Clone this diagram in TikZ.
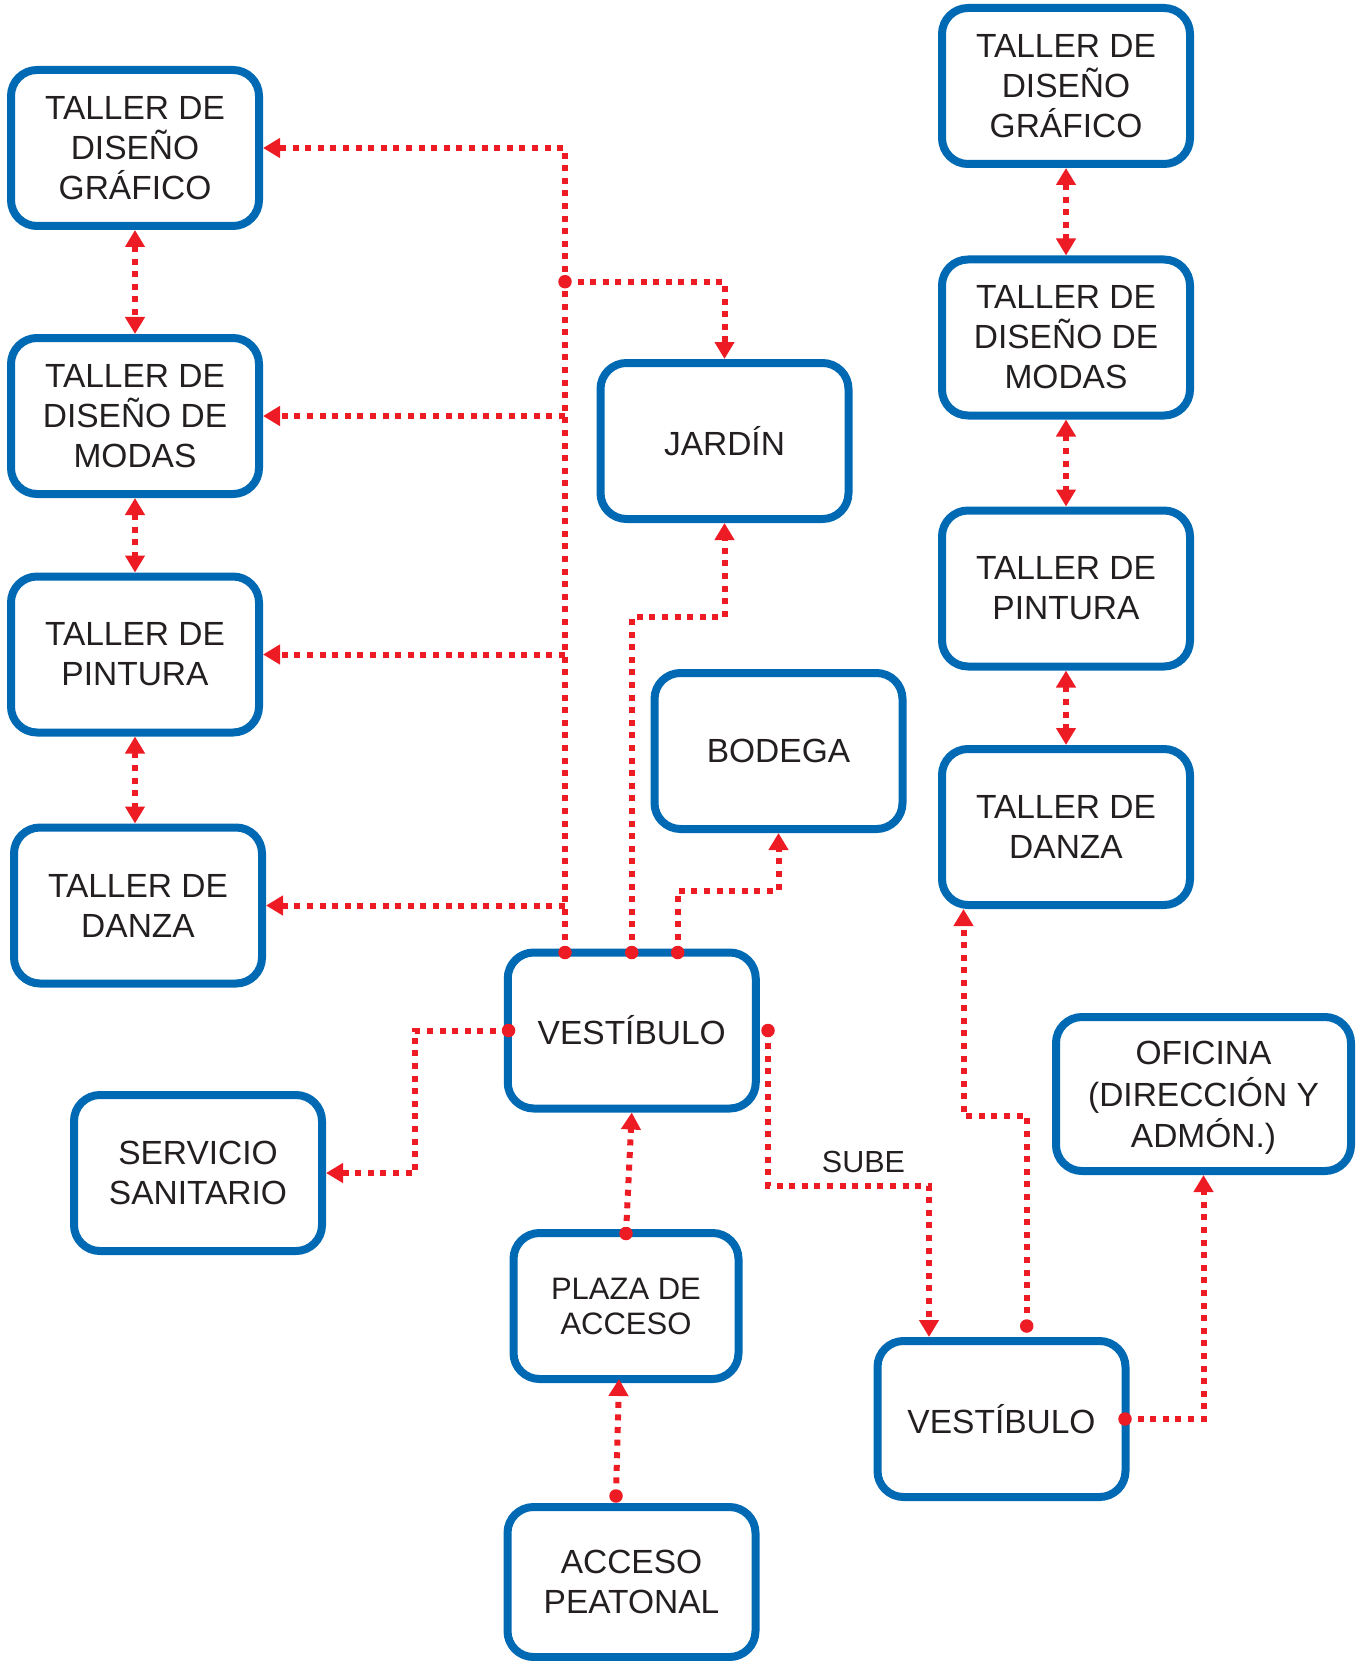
\documentclass[tikz,border=0pt]{standalone}
\usepackage{fontspec}
\setmainfont{Liberation Sans}
\usetikzlibrary{arrows.meta}

\definecolor{boxblue}{RGB}{0,105,180}
\definecolor{linkred}{RGB}{237,28,36}
\definecolor{ink}{RGB}{35,31,32}

\tikzset{
  room/.style={draw=boxblue, line width=8pt, rounded corners=26pt, fill=white,
    minimum width=248pt, minimum height=156pt, inner sep=0pt, align=center,
    text=ink, font=\fontsize{33.5pt}{40pt}\selectfont},
  smallroom/.style={room, minimum width=225pt, minimum height=146pt,
    font=\fontsize{31pt}{35pt}\selectfont},
  link/.style={draw=linkred, line width=6pt, dash pattern=on 6pt off 6.6pt},
  tip/.style={-{Triangle[length=17pt,width=19pt]}},
  bothtips/.style={{Triangle[length=17pt,width=19pt]}-{Triangle[length=17pt,width=19pt]}},
  dot/.style={circle, fill=linkred, inner sep=0pt, minimum size=13.5pt},
  tag/.style={text=ink, font=\fontsize{30.5pt}{35pt}\selectfont}
}

\begin{document}
\begin{tikzpicture}[x=1pt, y=-1pt]
\useasboundingbox (0,0) rectangle (1363,1661);

% rooms, left column
\node[room] (tdgL) at (135,148)   {TALLER DE\\DISEÑO\\GRÁFICO};
\node[room] (tdmL) at (135,416)   {TALLER DE\\DISEÑO DE\\MODAS};
\node[room] (tpL)  at (135,654.5) {TALLER DE\\PINTURA};
\node[room] (tdL)  at (138,905.5) {TALLER DE\\DANZA};

% rooms, centre
\node[room] (jardin) at (724.5,441)     {JARDÍN};
\node[room] (bodega) at (778.5,751)     {BODEGA};
\node[room] (vest)   at (631.75,1030.5) {VESTÍBULO};
\node[room] (serv)   at (198,1173)      {SERVICIO\\SANITARIO};
\node[smallroom] (plaza) at (626,1306)  {PLAZA DE\\ACCESO};
\node[room, minimum height=150pt] (acceso) at (631.5,1582) {ACCESO\\PEATONAL};

% rooms, right column
\node[room] (tdgR)  at (1066,86)     {TALLER DE\\DISEÑO\\GRÁFICO};
\node[room] (tdmR)  at (1066,337.5)  {TALLER DE\\DISEÑO DE\\MODAS};
\node[room] (tpR)   at (1066,588.5)  {TALLER DE\\PINTURA};
\node[room] (tdR)   at (1066,827)    {TALLER DE\\DANZA};
\node[room, minimum width=295pt, minimum height=154pt] (ofi) at (1203.5,1094)
  {\raisebox{-4pt}[\height][\depth]{\begin{tabular}{@{}c@{}}OFICINA\\(DIRECCIÓN Y\\ADMÓN.)\end{tabular}}};
\node[room] (vestR) at (1001.5,1419) {VESTÍBULO};

% two-way links between workshops
\draw[link, bothtips] (tdgL.south) -- (tdmL.north);
\draw[link, bothtips] (tdmL.south) -- (tpL.north);
\draw[link, bothtips] (tpL.south) -- (tpL.south |- tdL.north);
\draw[link, bothtips] (tdgR.south) -- (tdmR.north);
\draw[link, bothtips] (tdmR.south) -- (tpR.north);
\draw[link, bothtips] (tpR.south) -- (tdR.north);

% start points on the lobbies
\node[dot] (d1) at (565,952.5)    {};
\node[dot] (d0) at (565,281.7)    {};
\node[dot] (d2) at (631.75,952.5) {};
\node[dot] (d3) at (677.7,952.5)  {};
\node[dot] (d4) at (508.5,1030.5) {};
\node[dot] (d5) at (768,1030.5)   {};
\node[dot] (d6) at (1026.7,1326)  {};
\node[dot] (d7) at (1125,1419)    {};
\node[dot] (d8) at (626,1233.5)   {};
\node[dot] (d9) at (616,1496)     {};

% bends
\coordinate (k1) at (565,148);
\coordinate (k2) at (724.5,281.7);
\coordinate (k3) at (631.75,617.4);
\coordinate (k4) at (724.5,617.4);
\coordinate (k5) at (677.7,890.6);
\coordinate (k6) at (778.5,890.6);
\coordinate (k7) at (415,1030.5);
\coordinate (k8) at (415,1173);
\coordinate (k9) at (768,1185.7);
\coordinate (k10) at (929,1185.7);
\coordinate (k11) at (1026.7,1116);
\coordinate (k12) at (963.5,1116);
\coordinate (k13) at (1203.5,1419);
\coordinate (plazaIn) at (619,1379);

% main trunk to the left workshops
\draw[link, tip] (d1.center) -- (k1) -- (tdgL.east);
\draw[link, tip] (tdmL.east -| d1) -- (tdmL.east);
\draw[link, tip] (tpL.east -| d1) -- (tpL.east);
\draw[link, tip] (tdL.east -| d1) -- (tdL.east);
\draw[link, tip] (d0.center) -- (k2) -- (jardin.north);

% garden and storage
\draw[link, tip] (d2.center) -- (k3) -- (k4) -- (jardin.south);
\draw[link, tip] (d3.center) -- (k5) -- (k6) -- (bodega.south);

% toilets
\draw[link, tip] (d4.center) -- (k7) -- (k8) -- (serv.east);

% upper floor
\draw[link, tip] (d5.center) -- (k9) -- (k10) -- (k10 |- vestR.north);
\node[tag] (sube) at (863.5,1162) {SUBE};
\draw[link, tip] (d6.center) -- (k11) -- (k12) -- (k12 |- tdR.south);
\draw[link, tip] (d7.center) -- (k13) -- (ofi.south);

% entrance sequence
\draw[link, tip] (d8.center) -- (vest.south);
\draw[link, tip] (d9.center) -- (plazaIn);
\end{tikzpicture}
\end{document}
